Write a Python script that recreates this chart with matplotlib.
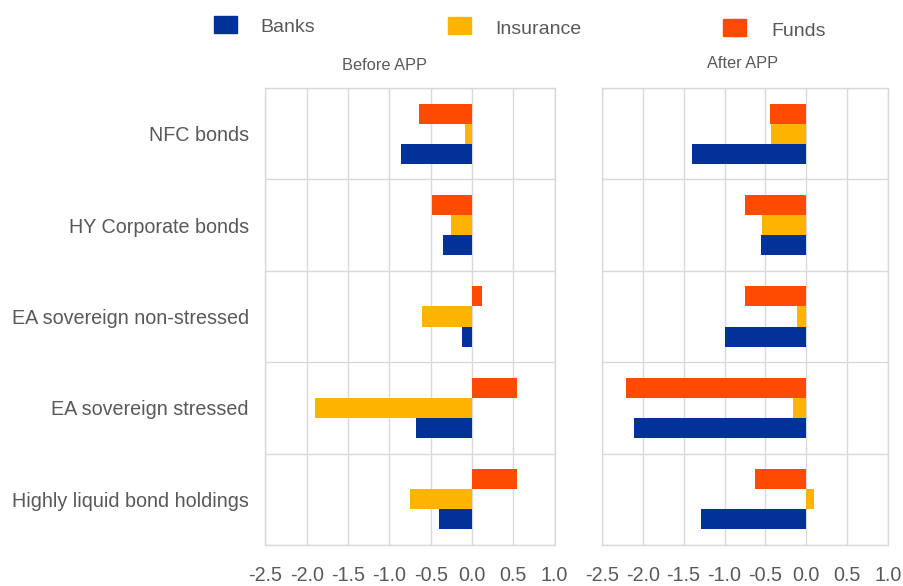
import numpy as np
import matplotlib
matplotlib.use('Agg')
import matplotlib.pyplot as plt
from matplotlib.patches import Rectangle

categories = ['NFC bonds', 'HY Corporate bonds', 'EA sovereign non-stressed',
              'EA sovereign stressed', 'Highly liquid bond holdings']
series = ['Banks', 'Insurance', 'Funds']
colors = ['#003299', '#FFB400', '#FF4B00']

before_banks = [-0.86, -0.35, -0.12, -0.68, -0.40]
before_insurance = [-0.08, -0.25, -0.61, -1.90, -0.75]
before_funds = [-0.64, -0.48, 0.125, 0.54, 0.55]

after_banks = [-1.40, -0.56, -1.00, -2.10, -1.29]
after_insurance = [-0.43, -0.54, -0.11, -0.16, 0.09]
after_funds = [-0.45, -0.75, -0.75, -2.20, -0.63]

xticks = [-2.5, -2.0, -1.5, -1.0, -0.5, 0.0, 0.5, 1.0]

plt.rcParams['font.family'] = ['Liberation Sans', 'DejaVu Sans']
txt = '#595959'
grid = '#d9d9d9'

fig = plt.figure(figsize=(9.04, 5.86), dpi=100)
ax1 = fig.add_axes([265.5 / 904, 1 - 545 / 586, 289 / 904, 457 / 586])
ax2 = fig.add_axes([601.7 / 904, 1 - 545 / 586, 286.6 / 904, 457 / 586])

y = np.arange(len(categories))
h = 0.22

panels = [(ax1, before_banks, before_insurance, before_funds),
          (ax2, after_banks, after_insurance, after_funds)]
for ax, banks, ins, funds in panels:
    ax.barh(y + h, banks, height=h, color=colors[0], zorder=3)
    ax.barh(y, ins, height=h, color=colors[1], zorder=3)
    ax.barh(y - h, funds, height=h, color=colors[2], zorder=3)
    ax.set_xlim(-2.5, 1.0)
    ax.set_ylim(len(categories) - 0.5, -0.5)
    ax.set_xticks(xticks)
    ax.set_xticklabels(['%.1f' % t for t in xticks])
    ax.set_yticks(y)
    ax.set_yticks(np.arange(len(categories) + 1) - 0.5, minor=True)
    ax.tick_params(which='both', length=0, colors=txt, labelsize=14.2)
    ax.tick_params(axis='x', pad=15)
    ax.tick_params(axis='y', pad=12, labelsize=14.2)
    ax.grid(axis='x', which='major', color=grid, lw=1, zorder=0)
    ax.grid(axis='y', which='minor', color=grid, lw=1, zorder=0)
    for s in ax.spines.values():
        s.set_color(grid)
        s.set_linewidth(1)

ax1.set_yticklabels(categories)
ax2.set_yticklabels([])

fig.text(384.5 / 904, 1 - 65 / 586, 'Before APP', ha='center', va='center',
         color=txt, fontsize=11.8)
fig.text(742.5 / 904, 1 - 64 / 586, 'After APP', ha='center', va='center',
         color=txt, fontsize=11.8)

# legend boxes along the top
leg = [(214, 16, 260, 27), (448, 17, 495, 29), (723, 19, 771, 31)]
for (bx, by, tx, ty), name, c in zip(leg, series, colors):
    fig.add_artist(Rectangle((bx / 904, 1 - (by + 17) / 586), 23 / 904, 17 / 586,
                             transform=fig.transFigure, color=c))
    fig.text(tx / 904, 1 - ty / 586, name, ha='left', va='center',
             color=txt, fontsize=14)

fig.savefig('out.png', dpi=100)
